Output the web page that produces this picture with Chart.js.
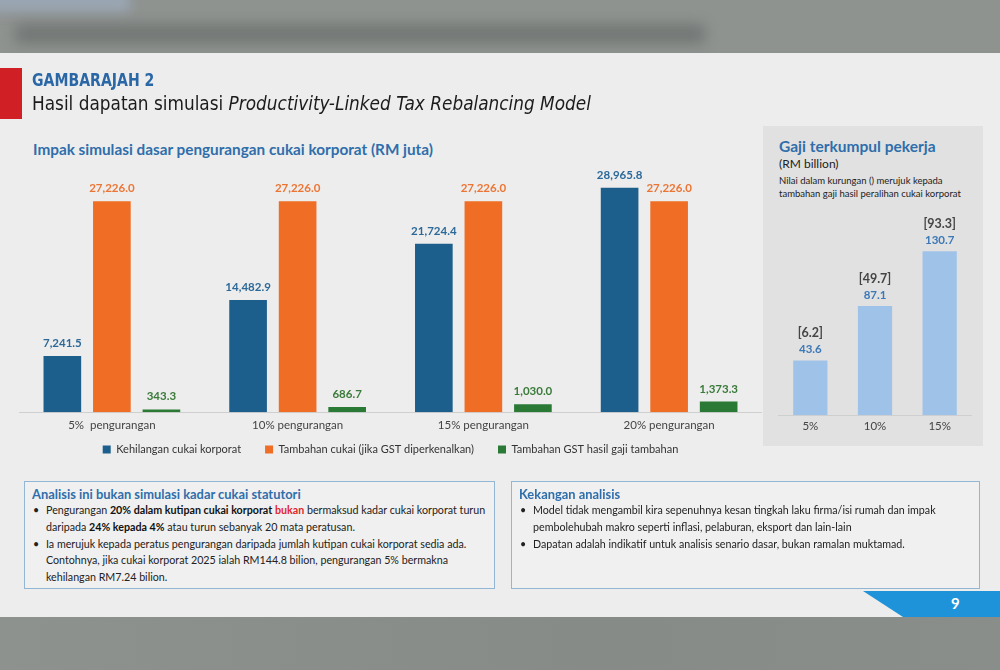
<!DOCTYPE html>
<html>
<head>
<meta charset="utf-8">
<script src="https://cdn.jsdelivr.net/npm/chart.js"></script>
<style>
  body { margin: 0; width: 1000px; height: 670px; overflow: hidden; position: relative; background: #8c908d; font-family: Lato, "Open Sans", sans-serif; }
  .abs { position: absolute; }
  #atas { left: 0; top: 0; width: 1000px; height: 53px; background: #8f9390; overflow: hidden; }
  #atas .kabur1 { left: -20px; top: -10px; width: 150px; height: 22px; background: #9aa6b4; filter: blur(6px); }
  #atas .kabur2 { left: 15px; top: 24px; width: 690px; height: 20px; background: #6c706e; filter: blur(7px); opacity: .8; }
  #slaid { left: 0; top: 53px; width: 1000px; height: 564px; background: #ededed; }
  #bawah { left: 0; top: 617px; width: 1000px; height: 53px; background: linear-gradient(90deg, #8e928f, #878b88 60%, #8a8e8b); }
  #merah { left: 0; top: 68px; width: 22px; height: 51px; background: #d01f25; }
  #gambarajah { left: 32px; top: 70px; font: bold 17px "DejaVu Sans Condensed", sans-serif; color: #2a67a6; transform: scaleX(0.92); transform-origin: 0 0; white-space: nowrap; }
  #tajuk { left: 32px; top: 91px; font: 20px "DejaVu Sans Condensed", sans-serif; color: #1b1b1b; white-space: nowrap; transform: scaleX(0.94); transform-origin: 0 0; }
  #tajuk i { font-style: italic; }
  #tajukKiri { left: 33px; top: 140px; font: bold 15.3px Lato, sans-serif; color: #2f6eab; white-space: nowrap; }
  #panel { left: 763px; top: 126px; width: 220px; height: 320px; background: #e1e1e1; }
  #tajukKanan { left: 779px; top: 137px; font: bold 15.5px Lato, sans-serif; color: #2f6eab; white-space: nowrap; }
  #unit { left: 779px; top: 156px; font: 12px Lato, sans-serif; color: #222; }
  #nota { left: 779px; top: 174px; font: 9.5px/13px Lato, sans-serif; color: #222; white-space: nowrap; }
  #wrapKiri { left: 19px; top: 160px; width: 743px; height: 323px; }
  #wrapKanan { left: 778px; top: 205px; width: 194px; height: 232px; }
  .kotak { top: 481px; height: 106px; border: 1px solid #93b6d4; background: #f0f0f0; }
  .kotak h3 { margin: 0; position: absolute; left: 7px; top: 4px; font: bold 12.9px Lato, sans-serif; color: #2f6eab; white-space: nowrap; }
  .kotak ul { margin: 0; padding: 0; list-style: none; position: absolute; left: 8px; top: 20px; font: 10.7px/16.8px Lato, sans-serif; color: #222; white-space: nowrap; }
  .kotak li { position: relative; padding-left: 13px; }
  .kotak li:before { content: "\2022"; position: absolute; left: 0; }
  .kotak b { font-weight: bold; color: #111; }
  .kotak .merah { color: #e0262b; font-weight: bold; }
  #kotakKiri { left: 24px; width: 469px; }
  #kotakKanan { left: 511px; width: 467px; }
  #nombor { left: 0; top: 0; }
  #halaman { left: 951px; top: 594px; font: bold 15px Lato, sans-serif; color: #fff; }
</style>
</head>
<body>
<div id="atas" class="abs"><div class="abs kabur1"></div><div class="abs kabur2"></div></div>
<div id="slaid" class="abs"></div>
<div id="bawah" class="abs"></div>
<svg class="abs" id="nombor" width="1000" height="670"><polygon points="863,591 1000,591 1000,617 903,617" fill="#1f93da"/></svg>
<div id="halaman" class="abs">9</div>

<div id="merah" class="abs"></div>
<div id="gambarajah" class="abs">GAMBARAJAH 2</div>
<div id="tajuk" class="abs">Hasil dapatan simulasi <i>Productivity-Linked Tax Rebalancing Model</i></div>
<div id="tajukKiri" class="abs">Impak simulasi dasar pengurangan cukai korporat (RM juta)</div>

<div id="panel" class="abs"></div>
<div id="tajukKanan" class="abs">Gaji terkumpul pekerja</div>
<div id="unit" class="abs">(RM billion)</div>
<div id="nota" class="abs">Nilai dalam kurungan () merujuk kepada<br>tambahan gaji hasil peralihan cukai korporat</div>

<div id="wrapKiri" class="abs"><canvas id="carta1"></canvas></div>
<div id="wrapKanan" class="abs"><canvas id="carta2"></canvas></div>

<div id="kotakKiri" class="abs kotak">
  <h3>Analisis ini bukan simulasi kadar cukai statutori</h3>
  <ul>
    <li>Pengurangan <b>20% dalam kutipan cukai korporat</b> <span class="merah">bukan</span> bermaksud kadar cukai korporat turun<br>daripada <b>24% kepada 4%</b> atau turun sebanyak 20 mata peratusan.</li>
    <li>Ia merujuk kepada peratus pengurangan daripada jumlah kutipan cukai korporat sedia ada.<br>Contohnya, jika cukai korporat 2025 ialah RM144.8 bilion, pengurangan 5% bermakna<br>kehilangan RM7.24 bilion.</li>
  </ul>
</div>
<div id="kotakKanan" class="abs kotak">
  <h3>Kekangan analisis</h3>
  <ul>
    <li>Model tidak mengambil kira sepenuhnya kesan tingkah laku firma/isi rumah dan impak<br>pembolehubah makro seperti inflasi, pelaburan, eksport dan lain-lain</li>
    <li>Dapatan adalah indikatif untuk analisis senario dasar, bukan ramalan muktamad.</li>
  </ul>
</div>

<script>
// data carta kiri (RM juta)
const kategori = ['5%  pengurangan', '10% pengurangan', '15% pengurangan', '20% pengurangan'];
const kehilanganCukai = [7241.5, 14482.9, 21724.4, 28965.8];
const tambahanCukaiGST = [27226.0, 27226.0, 27226.0, 27226.0];
const tambahanGSTGaji = [343.3, 686.7, 1030.0, 1373.3];
const namaSiri = ['Kehilangan cukai korporat', 'Tambahan cukai (jika GST diperkenalkan)', 'Tambahan GST hasil gaji tambahan'];

// data carta kanan (RM billion)
const kategoriGaji = ['5%', '10%', '15%'];
const gajiTerkumpul = [43.6, 87.1, 130.7];
const tambahanGaji = [6.2, 49.7, 93.3];

Chart.defaults.font.family = 'Lato, "Open Sans", sans-serif';
Chart.defaults.animation = false;

function formatNilai(v) {
  return v.toLocaleString('en-US', { minimumFractionDigits: 1, maximumFractionDigits: 1 });
}

// label nilai di atas setiap bar
const labelNilai = {
  id: 'labelNilai',
  afterDatasetsDraw(chart, args, opts) {
    const ctx = chart.ctx;
    ctx.save();
    ctx.textAlign = 'center';
    ctx.textBaseline = 'bottom';
    chart.data.datasets.forEach((ds, i) => {
      const meta = chart.getDatasetMeta(i);
      meta.data.forEach((bar, j) => {
        ctx.font = 'bold 11.5px Lato, sans-serif';
        ctx.fillStyle = ds.warnaLabel;
        ctx.fillText(formatNilai(ds.data[j]), bar.x, bar.y - opts.jarak);
        if (ds.kurungan) {
          ctx.font = 'bold 12.5px Lato, sans-serif';
          ctx.fillStyle = '#444';
          ctx.fillText('[' + formatNilai(ds.kurungan[j]) + ']', bar.x, bar.y - opts.jarak - 16);
        }
      });
    });
    ctx.restore();
  }
};

// naikkan legend sedikit supaya rapat dengan paksi x
const geserLegend = {
  id: 'geserLegend',
  afterLayout(chart, args, opts) {
    if (!chart.legend) return;
    chart.legend.top -= opts.naik;
    chart.legend.bottom -= opts.naik;
  }
};

//////////////CARTA KIRI///////////
const dataKiri = {
  labels: kategori,
  datasets: [{
    label: namaSiri[0],
    data: kehilanganCukai,
    backgroundColor: '#1d5f8c',
    warnaLabel: '#2c6898'
  }, {
    label: namaSiri[1],
    data: tambahanCukaiGST,
    backgroundColor: '#ef6d25',
    warnaLabel: '#ec7534'
  }, {
    label: namaSiri[2],
    data: tambahanGSTGaji,
    backgroundColor: '#2a7a36',
    warnaLabel: '#3a7a3a'
  }]
};

new Chart(document.getElementById('carta1'), {
  type: 'bar',
  data: dataKiri,
  plugins: [labelNilai, geserLegend],
  options: {
    responsive: true,
    maintainAspectRatio: false,
    layout: { padding: { top: 12, left: 0, right: 0, bottom: 0 } },
    categoryPercentage: 0.8,
    barPercentage: 0.76,
    plugins: {
      legend: {
        position: 'bottom',
        labels: { boxWidth: 8, boxHeight: 8, padding: 24, color: '#333', font: { size: 11 } }
      },
      tooltip: { enabled: false },
      labelNilai: { jarak: 7 },
      geserLegend: { naik: 18 }
    },
    scales: {
      x: {
        grid: { display: false, drawTicks: false },
        border: { color: '#cfcfcf' },
        ticks: { color: '#444', padding: 6, font: { size: 11.5 } }
      },
      y: { display: false, min: 0, max: 31000 }
    }
  }
});
//////////////CARTA KIRI///////////

//////////////CARTA KANAN///////////
new Chart(document.getElementById('carta2'), {
  type: 'bar',
  data: {
    labels: kategoriGaji,
    datasets: [{
      label: 'Gaji terkumpul pekerja',
      data: gajiTerkumpul,
      kurungan: tambahanGaji,
      backgroundColor: '#9fc3e8',
      warnaLabel: '#3b78b8'
    }]
  },
  plugins: [labelNilai],
  options: {
    responsive: true,
    maintainAspectRatio: false,
    layout: { padding: { top: 22, left: 0, right: 0, bottom: 0 } },
    categoryPercentage: 1,
    barPercentage: 0.53,
    plugins: {
      legend: { display: false },
      tooltip: { enabled: false },
      labelNilai: { jarak: 5 }
    },
    scales: {
      x: {
        grid: { display: false, drawTicks: false },
        border: { color: '#cfcfcf' },
        ticks: { color: '#444', padding: 4, font: { size: 11.5 } }
      },
      y: { display: false, min: 0, max: 150 }
    }
  }
});
//////////////CARTA KANAN///////////
</script>
</body>
</html>
